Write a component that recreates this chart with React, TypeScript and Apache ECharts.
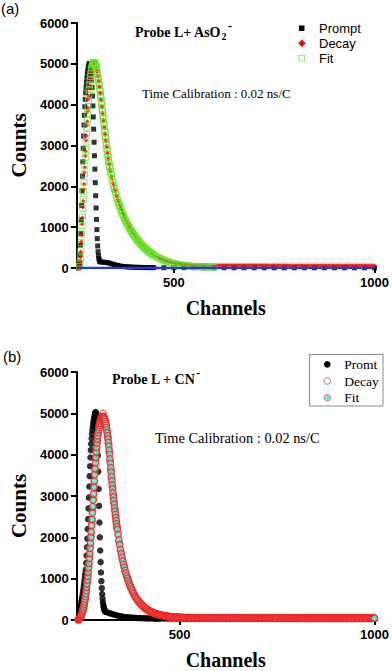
import React, { useEffect, useRef } from "react";
import * as echarts from "echarts";

// ---------------- Panel (a): Probe L+ AsO2- ----------------
// Prompt (black squares), channels 262.. step 1
const promptAPeak = [0, 20, 60, 150, 320, 560, 850, 1180, 1530, 1890, 2250, 2600, 2930, 3230, 3500, 3740, 3950, 4130, 4290, 4420, 4540, 4640, 4730, 4810, 4870, 4930, 4970, 5000, 5010, 4990, 4940, 4860, 4750, 4600, 4420, 4210, 3970, 3700, 3400, 3080, 2750, 2420, 2090, 1770, 1470, 1190, 940, 720, 540, 400, 300, 230, 190, 165, 150];
// channels 320.. step 5
const promptATail = [145, 142, 138, 130, 118, 102, 86, 72, 60, 50, 42, 36, 31, 27, 24, 21, 19, 17, 16, 15, 14, 13, 12, 11, 10, 10, 9];
// channels 475.. step 25
const promptAFar = [8, 8, 7, 7, 7, 6, 6, 6, 6, 5, 5, 5, 5, 5, 5, 5, 4, 4, 4, 4, 4, 4];

// Decay (red diamonds), channels 264.. step 1
const decayAPeak = [0, 50, 130, 270, 400, 640, 810, 1070, 1230, 1490, 1640, 1920, 2060, 2340, 2470, 2740, 2860, 3120, 3240, 3490, 3590, 3830, 3920, 4140, 4210, 4400, 4470, 4630, 4670, 4800, 4820, 4930, 4930, 5020, 4990, 5050, 5010, 5050, 5010, 5030, 4970, 4980, 4900, 4900, 4820, 4810, 4710, 4690, 4590, 4570, 4450, 4420, 4300, 4270, 4140, 4100, 3970, 3930, 3800, 3760, 3630, 3590, 3460, 3420, 3300, 3260, 3140, 3100, 2990, 2950, 2840, 2800, 2700, 2660, 2560, 2530, 2430];
// channels 342.. step 2
const decayAMid = [2360, 2250, 2180, 2080, 2020, 1930, 1880, 1790, 1750, 1670, 1630, 1550, 1520, 1450, 1420, 1350, 1320, 1260, 1230, 1170, 1150, 1090, 1070, 1010, 1000, 940, 930, 880, 870, 820, 810, 760, 755, 710, 705, 660, 655, 610, 608, 570, 565, 530, 528, 492, 485, 455, 450, 425, 418, 395, 382, 365, 360, 335, 325];
// channels 455.. step 5
const decayATail = [295, 268, 238, 218, 193, 177, 158, 147, 131, 122, 111, 106, 97, 94, 87, 85, 80, 79, 75, 75,
  73, 71, 72, 70, 72, 71, 70, 71, 69, 70, 70, 69, 70, 68, 69, 70, 68, 69, 67, 69,
  68, 67, 68, 66, 68, 67, 66, 67, 66, 67, 66, 65, 67, 65, 66, 65, 66, 64, 66, 65,
  64, 65, 64, 65, 63, 65, 64, 63, 64, 63, 64, 62, 64, 63, 62, 63, 62, 63, 62, 63,
  62, 61, 63, 62, 61, 62, 61, 62, 61, 62, 61, 60, 62, 61, 60, 61, 60, 61, 60, 61,
  60, 60, 61, 60, 59, 60, 60, 59, 60, 59];

// Fit (green hollow squares), channels 265.. step 1
const fitAPeak = [40, 120, 250, 420, 620, 830, 1040, 1250, 1460, 1670, 1880, 2090, 2300, 2500, 2700, 2890, 3080, 3270, 3450, 3620, 3790, 3950, 4100, 4240, 4370, 4490, 4600, 4690, 4770, 4840, 4900, 4950, 4990, 5010, 5025, 5030, 5030, 5025, 5010, 4990, 4960, 4925, 4885, 4840, 4790, 4735, 4675, 4610, 4545, 4475, 4400, 4325, 4245, 4165, 4080, 3995, 3910, 3825, 3740, 3655, 3570, 3485, 3400, 3320, 3240, 3160, 3080, 3005, 2930, 2855, 2785, 2715, 2645, 2580, 2515, 2450];
// channels 342.. step 2
const fitAMid = [2360, 2265, 2175, 2090, 2010, 1935, 1860, 1790, 1720, 1655, 1595, 1535, 1480, 1425, 1375, 1325, 1280, 1235, 1190, 1150, 1110, 1070, 1035, 1000, 965, 930, 900, 870, 840, 810, 782, 755, 728, 702, 677, 653, 630, 607, 585, 564, 543, 523, 504, 485, 467, 449, 432, 416, 400, 385, 370, 355, 341, 328, 315];
// channels 455.. step 5
const fitATail = [285, 257, 232, 209, 188, 169, 152, 137, 123, 110, 99, 89, 80, 72, 65, 58, 52, 47, 43, 39, 36, 33, 31, 29, 27, 26, 25, 24, 23, 22];

// Blue base line
const baseLineA = [[264, 0], [1000, 0]];

// ---------------- Panel (b): Probe L + CN- ----------------
// Promt (black circles), channels 240.. step 1
const promptBPeak = [0, 30, 100, 160, 220, 280, 340, 400, 450, 500, 550, 610, 680, 750, 830, 900, 980, 1060, 1130, 1220, 1380, 1560, 1760, 1970, 2200, 2440, 2700, 2960, 3230, 3480, 3720, 3930, 4110, 4260, 4390, 4500, 4590, 4670, 4740, 4800, 4860, 4910, 4960, 5000, 5030, 5020, 4960, 4830, 4620, 4330, 3980, 3590, 3170, 2760, 2360, 2000, 1680, 1400, 1150, 940, 770, 630, 520, 430, 360, 310, 270, 240, 220, 205, 195];
// channels 315.. step 5
const promptBTail = [180, 165, 150, 135, 120, 108, 97, 88, 80, 73, 67, 62, 58, 55, 52, 50, 48, 46, 44, 42, 40, 38, 37, 35, 34, 33, 32, 31];
// channels 460.. step 10
const promptBFar = [30, 30, 29, 29, 29, 28, 28, 28, 27, 27, 27, 26, 26, 26, 26, 25, 25, 25, 25, 24, 24, 24, 24, 24, 23, 23, 23, 23, 23, 22, 22, 22, 22, 22, 22, 21, 21, 21, 21, 21, 21, 21, 20, 20, 20, 20, 20, 20, 20, 20, 20, 19, 19, 19, 19];

// Decay (hollow circles), channels 238.. step 1
const decayBPeak = [0, 5, 14, 20, 31, 38, 57, 66, 92, 104, 135, 150, 190, 208, 256, 282, 342, 376, 449, 491, 575, 622, 722, 776, 889, 951, 1078, 1141, 1285, 1352, 1512, 1585, 1760, 1838, 2028, 2110, 2316, 2402, 2624, 2710, 2935, 3020, 3245, 3330, 3552, 3622, 3838, 3898, 4098, 4140, 4318, 4340, 4498, 4500, 4635, 4628, 4744, 4725, 4830, 4800, 4895, 4858, 4935, 4885, 4990, 4895, 5005, 4880, 4920, 4840, 4875, 4770, 4790, 4680, 4690, 4565, 4560, 4425, 4415, 4265, 4245, 4080, 4050, 3870, 3830, 3650, 3615, 3440, 3405, 3235, 3200, 3040, 3010, 2855, 2830, 2685, 2660, 2525, 2500, 2375, 2350, 2230, 2210];
// channels 342.. step 2
const decayBMid = [2085, 1910, 1840, 1690, 1625, 1500, 1445, 1330, 1290, 1185, 1150, 1055, 1025, 940, 915, 835, 815, 748, 728, 668, 650, 596, 582, 534, 520, 478, 466, 428, 418, 385, 376, 346, 339, 311, 306, 281, 276, 254, 250, 230, 226, 209, 206, 190, 188, 173, 172, 158, 157, 146, 145, 134, 133, 124, 123];
// channels 455.. step 5
const decayBTail = [112, 99, 93, 84, 80, 75, 71, 67, 65, 61, 60, 56, 56, 53, 53, 50, 51, 48, 49, 47,
  48, 44, 47, 43, 46, 45, 44, 47, 43, 46, 45, 44, 47, 44, 46, 43, 47, 45, 44, 46,
  43, 47, 45, 44, 46, 45, 43, 47, 44, 46, 45, 44, 47, 43, 46, 45, 44, 46, 45, 43,
  47, 44, 46, 45, 43, 47, 45, 44, 46, 44, 45, 47, 43, 46, 44, 45, 47, 43, 46, 45,
  44, 46, 43, 47, 45, 44, 46, 45, 43, 46, 47, 44, 45, 46, 43, 47, 44, 45, 46, 44,
  43, 47, 45, 44, 46, 45, 43, 47, 44, 46];

// Fit (cyan circles), channels 240.. step 1
const fitBPeak = [10, 18, 28, 40, 54, 70, 88, 108, 130, 155, 183, 215, 250, 290, 335, 385, 440, 500, 565, 635, 710, 790, 875, 965, 1060, 1160, 1265, 1375, 1490, 1610, 1735, 1865, 2000, 2140, 2285, 2435, 2590, 2745, 2900, 3055, 3210, 3365, 3515, 3660, 3800, 3935, 4060, 4175, 4280, 4375, 4460, 4535, 4600, 4660, 4710, 4755, 4795, 4830, 4860, 4885, 4900, 4912, 4918, 4920, 4915, 4905, 4888, 4865, 4836, 4800, 4758, 4710, 4656, 4596, 4530, 4458, 4380, 4296, 4206, 4110, 4008, 3900, 3790, 3682, 3575, 3470, 3367, 3266, 3168, 3072, 2978, 2887, 2799, 2714, 2632, 2552, 2475, 2400, 2328, 2258, 2190];
// channels 342.. step 2
const fitBMid = [2060, 1935, 1820, 1705, 1605, 1515, 1427, 1346, 1270, 1198, 1130, 1066, 1006, 950, 897, 847, 800, 756, 714, 675, 638, 603, 570, 540, 510, 483, 457, 433, 410, 389, 369, 350, 332, 315, 300, 285, 270, 257, 245, 233, 222, 212, 202, 193, 184, 176, 169, 161, 154, 148, 142, 136, 131, 126, 121];
// channels 452.. step 2
const fitBTail = [116, 112, 108, 104, 101, 97, 94, 92, 89, 86, 84, 82, 79, 77, 76, 74, 72, 70, 69, 68, 66, 65, 64, 63, 62, 61, 60, 59, 58, 57, 56, 56, 55, 54, 54, 53, 53, 52, 52, 51, 51, 50, 50, 50, 49, 49, 49, 48, 48, 48];
// channels 552.. step 2
const fitBFar = [
  47, 48, 47, 47, 46, 47, 47, 46, 47, 47, 47, 46, 47, 46, 46,
  47, 46, 46, 47, 46, 46, 46, 45, 46, 46, 46, 45, 46, 46, 45,
  46, 45, 46, 46, 45, 45, 46, 45, 45, 46, 45, 45, 46, 45, 45,
  45, 45, 46, 45, 45, 45, 45, 45, 45, 44, 45, 45, 45, 45, 44,
  45, 45, 45, 44, 45, 45, 45, 44, 45, 45, 44, 45, 45, 45, 44,
  45, 44, 45, 45, 45, 44, 45, 44, 45, 45, 44, 45, 45, 44, 45,
  45, 44, 45, 44, 45, 45, 44, 45, 45, 44, 45, 44, 45, 45, 44,
  45, 45, 44, 44, 45, 45, 44, 45, 44, 45, 45, 44, 45, 44, 45,
  44, 45, 45, 44, 44, 45, 45, 44, 45, 44, 45, 44, 44, 45, 45,
  44, 44, 45, 44, 45, 44, 45, 44, 44, 45, 44, 45, 44, 44, 45,
  44, 45, 44, 44, 45, 44, 44, 45, 44, 44, 45, 44, 45, 44, 44,
  45, 44, 44, 45, 44, 44, 45, 44, 44, 45, 44, 44, 45, 44, 44,
  45, 44, 44, 44, 45, 44, 44, 45, 44, 44, 44, 45, 44, 44, 45,
  44, 44, 45, 44, 44, 44, 45, 44, 44, 45, 44, 44, 44, 45, 44,
  44, 45, 44, 44, 44, 45, 44, 44, 44, 45, 44, 44, 45, 44, 44];

// Axes
const yTicks = { min: 0, max: 6000, interval: 1000 };
const xTickValues = [500, 1000];
const xMinA = 258;
const xMinB = 236;

const seg = (start: number, step: number, counts: number[]) =>
  counts.map((v, i) => [start + i * step, v]);

const serif = "'Liberation Serif', 'Times New Roman', serif";
const sans = "'Liberation Sans', Arial, sans-serif";
const plain = (v: number) => String(v);

function xAxisCfg(gridIndex: number, min: number) {
  return {
    type: "value",
    gridIndex,
    min,
    max: 1000,
    axisLine: { show: true, onZero: false, lineStyle: { color: "#000", width: 2 } },
    axisTick: { show: true, length: 5, lineStyle: { color: "#000", width: 2 }, customValues: xTickValues },
    axisLabel: { show: true, customValues: xTickValues, formatter: plain, color: "#000", fontFamily: sans, fontWeight: "bold", fontSize: 13, margin: 8 },
    splitLine: { show: false },
    name: "Channels",
    nameLocation: "middle",
    nameGap: 30,
    nameTextStyle: { fontFamily: serif, fontWeight: "bold", fontSize: 20, color: "#000" },
  };
}

function yAxisCfg(gridIndex: number, namePadding: number[]) {
  return {
    type: "value",
    gridIndex,
    min: yTicks.min,
    max: yTicks.max,
    interval: yTicks.interval,
    axisLine: { show: true, lineStyle: { color: "#000", width: 2 } },
    axisTick: { show: true, length: 6, lineStyle: { color: "#000", width: 2 } },
    axisLabel: { formatter: plain, color: "#000", fontFamily: sans, fontWeight: "bold", fontSize: 13, margin: 8 },
    splitLine: { show: false },
    name: "Counts",
    nameLocation: "middle",
    nameGap: 45,
    nameTextStyle: { fontFamily: serif, fontWeight: "bold", fontSize: 21, color: "#000", padding: namePadding },
  };
}

const txt = (x: number, y: number, text: string, font: any, align = "left") => ({
  type: "text",
  x,
  y,
  silent: true,
  style: { text, fill: "#000", align, verticalAlign: "middle", ...font },
});

const scatter = (name: string, axis: number, extra: any) => ({
  name, type: "scatter", xAxisIndex: axis, yAxisIndex: axis, silent: true, clip: false, ...extra,
});

const option: any = {
  animation: false,
  backgroundColor: "#fff",
  grid: [
    { left: 74, top: 23, width: 301.7, height: 245 },
    { left: 73, top: 372, width: 302.7, height: 248 },
  ],
  xAxis: [xAxisCfg(0, xMinA), xAxisCfg(1, xMinB)],
  yAxis: [yAxisCfg(0, [0, 0, 0, 0]), yAxisCfg(1, [0, 20, 0, 0])],
  series: [
    scatter("Prompt", 0, {
      symbol: "rect", symbolSize: 5, itemStyle: { color: "#000" },
      data: [...seg(262, 1, promptAPeak), ...seg(320, 5, promptATail), ...seg(475, 25, promptAFar)],
    }),
    scatter("Decay", 0, {
      symbol: "diamond", symbolSize: 4.5, itemStyle: { color: "#ff0000" },
      data: [...seg(264, 1, decayAPeak), ...seg(342, 2, decayAMid), ...seg(455, 5, decayATail)],
    }),
    scatter("Fit", 0, {
      symbol: "rect", symbolSize: 6,
      itemStyle: { color: "rgba(255,255,255,0)", borderColor: "#62e62a", borderWidth: 1 },
      data: [...seg(265, 1, fitAPeak), ...seg(342, 2, fitAMid), ...seg(455, 5, fitATail)],
    }),
    {
      name: "Base", type: "line", xAxisIndex: 0, yAxisIndex: 0, silent: true,
      symbol: "none", lineStyle: { color: "#1e3fd2", width: 2.5 }, data: baseLineA,
    },
    scatter("Promt", 1, {
      symbol: "circle", symbolSize: 6.5, itemStyle: { color: "#000" },
      data: [...seg(240, 1, promptBPeak), ...seg(315, 5, promptBTail), ...seg(460, 10, promptBFar)],
    }),
    scatter("Decay (b)", 1, {
      symbol: "circle", symbolSize: 6.5,
      itemStyle: { color: "rgba(255,255,255,0)", borderColor: "#b85858", borderWidth: 1 },
      data: [...seg(238, 1, decayBPeak), ...seg(342, 2, decayBMid), ...seg(455, 5, decayBTail)],
    }),
    scatter("Fit (b)", 1, {
      symbol: "circle", symbolSize: 6.5,
      itemStyle: { color: "#5ee6d2", borderColor: "#ff1a1a", borderWidth: 1.3 },
      data: [...seg(240, 1, fitBPeak), ...seg(342, 2, fitBMid), ...seg(452, 2, fitBTail), ...seg(552, 2, fitBFar)],
    }),
  ],
  graphic: [
    txt(1, 8, "(a)", { fontFamily: sans, fontSize: 15 }),
    txt(3, 356, "(b)", { fontFamily: sans, fontSize: 15 }),
    // titles
    txt(135, 32, "Probe L+ AsO", { fontFamily: serif, fontSize: 14, fontWeight: "bold" }),
    txt(221.5, 36.5, "2", { fontFamily: serif, fontSize: 10, fontWeight: "bold" }),
    txt(228, 26, "-", { fontFamily: serif, fontSize: 12, fontWeight: "bold" }),
    txt(112, 379, "Probe L + CN", { fontFamily: serif, fontSize: 14, fontWeight: "bold" }),
    txt(196, 373, "-", { fontFamily: serif, fontSize: 12, fontWeight: "bold" }),
    txt(142, 93, "Time Calibration : 0.02 ns/C", { fontFamily: serif, fontSize: 13 }),
    txt(155, 438, "Time Calibration : 0.02 ns/C", { fontFamily: serif, fontSize: 14.4 }),
    // legend (a)
    { type: "rect", silent: true, shape: { x: 299, y: 25.5, width: 5.5, height: 5.5 }, style: { fill: "#000" } },
    { type: "polygon", silent: true, shape: { points: [[302, 39.5], [305.8, 43.3], [302, 47.1], [298.2, 43.3]] }, style: { fill: "#ff0000" } },
    { type: "rect", silent: true, shape: { x: 299, y: 55.5, width: 5.5, height: 5.5 }, style: { fill: "none", stroke: "#9ce87c", lineWidth: 1.2 } },
    txt(319, 28.3, "Prompt", { fontFamily: sans, fontSize: 13 }),
    txt(319, 43.3, "Decay", { fontFamily: sans, fontSize: 13 }),
    txt(319, 58.3, "Fit", { fontFamily: sans, fontSize: 13 }),
    // legend (b)
    { type: "rect", silent: true, shape: { x: 309.5, y: 354.5, width: 73.5, height: 51.5 }, style: { fill: "#fff", stroke: "#8c8c8c", lineWidth: 1 } },
    { type: "circle", silent: true, shape: { cx: 327.3, cy: 364.3, r: 3.3 }, style: { fill: "#000" } },
    { type: "circle", silent: true, shape: { cx: 327.3, cy: 381, r: 3.3 }, style: { fill: "#fff", stroke: "#a87272", lineWidth: 1 } },
    { type: "circle", silent: true, shape: { cx: 327.3, cy: 397.7, r: 3.3 }, style: { fill: "#5ff0dc", stroke: "#f07070", lineWidth: 1 } },
    txt(344.3, 364.3, "Promt", { fontFamily: serif, fontSize: 13.5 }),
    txt(344.3, 381, "Decay", { fontFamily: serif, fontSize: 13.5 }),
    txt(344.3, 397.7, "Fit", { fontFamily: serif, fontSize: 13.5 }),
  ],
};

export default function App() {
  const ref = useRef<HTMLDivElement>(null);
  useEffect(() => {
    if (!ref.current) return;
    const chart = echarts.init(ref.current, undefined, { renderer: "svg" });
    chart.setOption(option);
    return () => chart.dispose();
  }, []);
  return (
    <div
      ref={ref}
      style={{ position: "fixed", left: 0, top: 0, width: 392, height: 671, background: "#fff" }}
    />
  );
}
